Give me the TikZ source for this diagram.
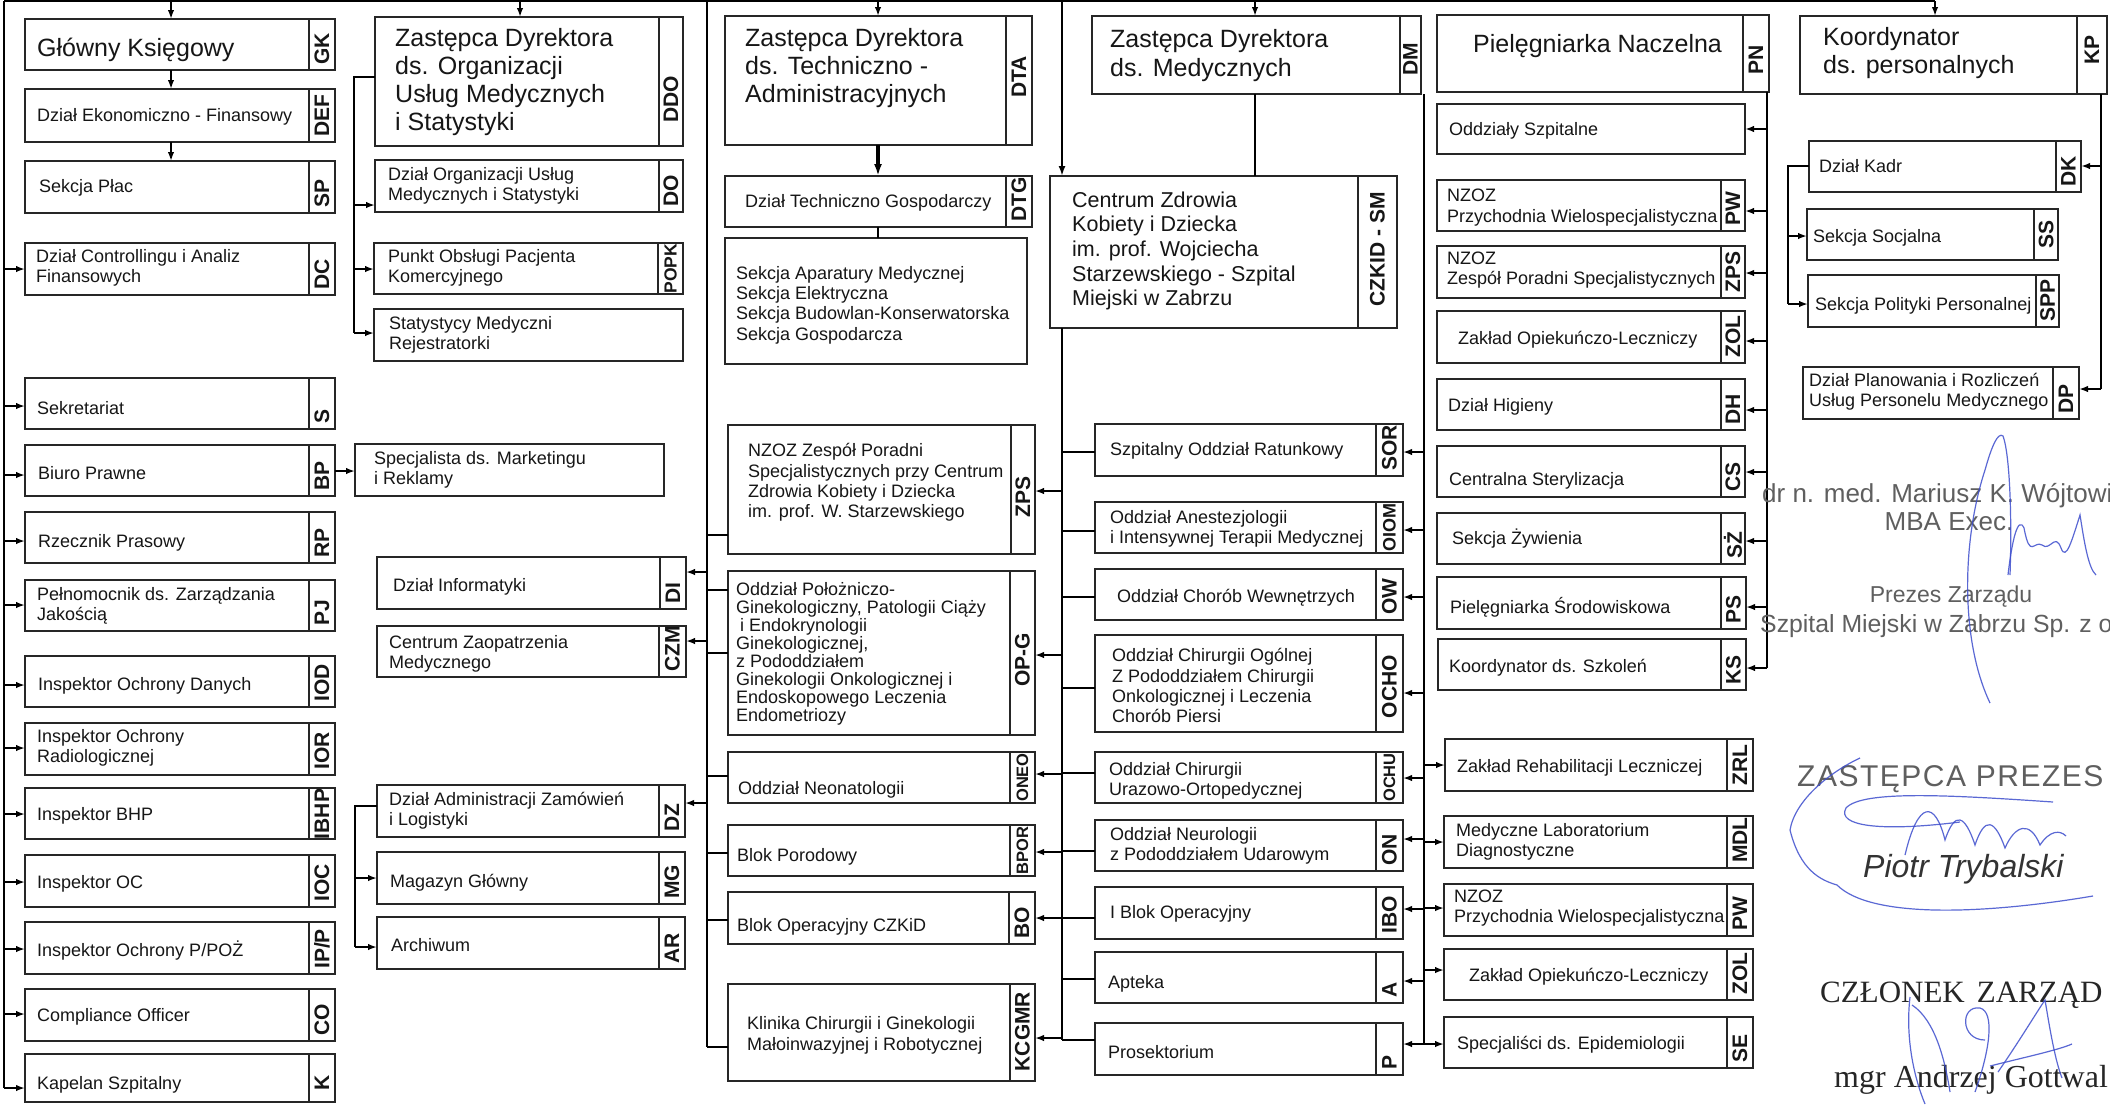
\documentclass[tikz,border=0pt]{standalone}
\usepackage{fontspec}
\setmainfont{Liberation Sans}
\newfontfamily\serifA{Liberation Serif}
\newfontfamily\stampF[LetterSpace=5]{Liberation Sans}
\usetikzlibrary{arrows.meta}
\definecolor{sigblue}{RGB}{62,78,205}
\definecolor{ink}{RGB}{22,22,22}
\definecolor{greyink}{RGB}{95,95,95}

\newcommand\fsS{\fontsize{18}{20.4}\selectfont}
\newcommand\fsB{\fontsize{25}{28.3}\selectfont}
\newcommand\fsC{\fontsize{21.5}{24.6}\selectfont}
\newcommand\fsL{\fontsize{21}{21}\selectfont\bfseries}

\tikzset{
  bx/.style={draw=black!85, line width=1.4pt, fill=white, inner sep=0pt, outer sep=0pt},
  dv/.style={draw=black!85, line width=1.4pt},
  lab/.style={inner sep=0pt, font=\fsL, text=ink, rotate=90},
  txt/.style={inner sep=0pt, font=\fsS, text=ink},
  ln/.style={line width=2.6pt, black},
  stb/.style={line width=2.2pt, black},
  arr/.style={line width=2pt, black, -{Latex[length=9pt,width=6.5pt]}},
  arrT/.style={line width=1.8pt, black, -{Latex[length=9pt,width=6.5pt]}},
  arrK/.style={line width=3.2pt, black, -{Latex[length=12pt,width=8pt]}},
  sig/.style={draw=sigblue, line width=1.2pt, opacity=0.85},
  sgt/.style={inner sep=0pt, text=greyink},
}

% box with label anchored near bottom
\newcommand\BxS[7]{%
  \node[bx, anchor=north west, minimum width={#4-#2}, minimum height={#5-#3}] (#1) at (#2,#3) {};
  \draw[dv] (#6,#3) -- (#6,#5);
  \node[lab, anchor=west] (#1-l) at ({(#6+#4)/2},{#5-5}) {#7};
}
% box with label centred at given y
\newcommand\BxC[8]{%
  \node[bx, anchor=north west, minimum width={#4-#2}, minimum height={#5-#3}] (#1) at (#2,#3) {};
  \draw[dv] (#6,#3) -- (#6,#5);
  \node[lab, anchor=center] (#1-l) at ({(#6+#4)/2},#8) {#7};
}
% box without label
\newcommand\BxN[5]{%
  \node[bx, anchor=north west, minimum width={#4-#2}, minimum height={#5-#3}] (#1) at (#2,#3) {};
}
\newcommand\Tone[4]{\node[txt, anchor=base west] (#1) at (#2,{#3+6.5}) {#4};}
\newcommand\Tmul[4]{\node[txt, anchor=west, align=left] (#1) at (#2,#3) {#4};}
\newcommand\Tbig[4]{\node[txt, font=\fsB, anchor=west, align=left] (#1) at (#2,#3) {#4};}
\newcommand\Tbigone[4]{\node[txt, font=\fsB, anchor=base west] (#1) at (#2,{#3+9}) {#4};}
\newcommand\ArW[3]{\draw[arr] (#1 |- 0,#3) -- (#2.west |- 0,#3);}
\newcommand\ArE[3]{\draw[arr] (#1 |- 0,#3) -- (#2.east |- 0,#3);}
\newcommand\StW[3]{\draw[stb] (#1 |- 0,#3) -- (#2.west |- 0,#3);}

\begin{document}
\begin{tikzpicture}[x=1pt,y=-1pt]
\useasboundingbox (0,0) rectangle (2110,1104);
\fill[white] (0,0) rectangle (2110,1104);

% ---------------- column 1
\BxS{GK}{25}{19}{335}{70}{309}{GK}
\BxS{DEF}{25}{89}{335}{142}{309}{DEF}
\BxS{SP}{25}{161}{335}{213}{309}{SP}
\BxS{DC}{25}{243}{335}{295}{309}{DC}
\BxS{S}{25}{378}{335}{429}{309}{S}
\BxS{BP}{25}{445}{335}{496}{309}{BP}
\BxS{RP}{25}{512}{335}{563}{309}{RP}
\BxS{PJ}{25}{580}{335}{631}{309}{PJ}
\BxS{IOD}{25}{656}{335}{707}{309}{IOD}
\BxS{IOR}{25}{723}{335}{775}{309}{IOR}
\BxC{IBHP}{25}{788}{335}{839}{309}{IBHP}{814}
\BxS{IOC}{25}{855}{335}{907}{309}{IOC}
\BxS{IPP}{25}{922}{335}{974}{309}{IP/P}
\BxS{CO}{25}{989}{335}{1041}{309}{CO}
\BxC{K}{25}{1054}{335}{1102}{309}{K}{1083}

\Tbigone{GKt}{37}{47}{Główny Księgowy}
\Tone{DEFt}{37}{115}{Dział Ekonomiczno - Finansowy}
\Tone{SPt}{39}{186}{Sekcja Płac}
\Tmul{DCt}{36}{268}{Dział Controllingu i Analiz\\Finansowych}
\Tone{St}{37}{408}{Sekretariat}
\Tone{BPt}{38}{473}{Biuro Prawne}
\Tone{RPt}{38}{541}{Rzecznik Prasowy}
\Tmul{PJt}{37}{606}{Pełnomocnik ds. Zarządzania\\Jakością}
\Tone{IODt}{38}{684}{Inspektor Ochrony Danych}
\Tmul{IORt}{37}{748}{Inspektor Ochrony\\Radiologicznej}
\Tone{IBHPt}{37}{814}{Inspektor BHP}
\Tone{IOCt}{37}{882}{Inspektor OC}
\Tone{IPPt}{37}{950}{Inspektor Ochrony P/POŻ}
\Tone{COt}{37}{1015}{Compliance Officer}
\Tone{Kt}{37}{1083}{Kapelan Szpitalny}

% ---------------- column 2
\BxC{DDO}{375}{17}{683}{146}{659}{DDO}{99}
\BxS{DO}{375}{160}{683}{212}{659}{DO}
\BxC{POPK}{374}{243}{683}{294}{658}{\fontsize{17.5}{17.5}\selectfont POPK}{268.5}
\BxN{STAT}{374}{309}{683}{361}
\BxN{SPEC}{355}{444}{664}{496}
\BxS{DI}{377}{557}{686}{609}{660}{DI}
\BxS{CZM}{377}{626}{686}{677}{659}{CZM}
\BxS{DZ}{377}{785}{685}{837}{659}{DZ}
\BxS{MG}{377}{852}{685}{904}{659}{MG}
\BxS{AR}{377}{917}{685}{969}{659}{AR}

\Tbig{DDOt}{395}{82}{Zastępca Dyrektora\\ds. Organizacji\\Usług Medycznych\\i Statystyki}
\Tmul{DOt}{388}{186}{Dział Organizacji Usług\\Medycznych i Statystyki}
\Tmul{POPKt}{388}{268}{Punkt Obsługi Pacjenta\\Komercyjnego}
\Tmul{STATt}{389}{335}{Statystycy Medyczni\\Rejestratorki}
\Tmul{SPECt}{374}{470}{Specjalista ds. Marketingu\\i Reklamy}
\Tone{DIt}{393}{585}{Dział Informatyki}
\Tmul{CZMt}{389}{654}{Centrum Zaopatrzenia\\Medycznego}
\Tmul{DZt}{389}{811}{Dział Administracji Zamówień\\i Logistyki}
\Tone{MGt}{390}{881}{Magazyn Główny}
\Tone{ARt}{391}{945}{Archiwum}

% ---------------- column 3
\BxC{DTA}{725}{16}{1032}{145}{1006}{DTA}{77}
\BxS{DTG}{725}{176}{1032}{227}{1006}{DTG}
\BxN{SEK}{725}{238}{1027}{364}
\BxC{ZPSa}{728}{425}{1035}{554}{1011}{ZPS}{497}
\BxC{OPG}{728}{571}{1035}{735}{1010}{OP-G}{660}
\BxC{ONEO}{728}{752}{1035}{803}{1010}{\fontsize{16.5}{16.5}\selectfont ONEO}{777.5}
\BxC{BPOR}{728}{825}{1035}{876}{1010}{\fontsize{16.5}{16.5}\selectfont BPOR}{850.5}
\BxS{BO}{728}{892}{1035}{944}{1009}{BO}
\BxC{KCGMR}{728}{984}{1035}{1081}{1010}{KCGMR}{1031.5}

\Tbig{DTAt}{745}{68}{Zastępca Dyrektora\\ds. Techniczno -\\Administracyjnych}
\Tone{DTGt}{745}{201}{Dział Techniczno Gospodarczy}
\Tmul{SEKt}{736}{305}{Sekcja Aparatury Medycznej\\Sekcja Elektryczna\\Sekcja Budowlan-Konserwatorska\\Sekcja Gospodarcza}
\Tmul{ZPSat}{748}{482.5}{NZOZ Zespół Poradni\\Specjalistycznych przy Centrum\\Zdrowia Kobiety i Dziecka\\im. prof. W. Starzewskiego}
\node[txt, font=\fontsize{18}{18}\selectfont, anchor=west, align=left] (OPGt) at (736,654) {Oddział Położniczo-\\Ginekologiczny, Patologii Ciąży\\\hspace*{4pt}i Endokrynologii\\Ginekologicznej,\\z Pododdziałem\\Ginekologii Onkologicznej i\\Endoskopowego Leczenia\\Endometriozy};
\Tone{ONEOt}{738}{788}{Oddział Neonatologii}
\Tone{BPORt}{737}{855}{Blok Porodowy}
\Tone{BOt}{737}{925}{Blok Operacyjny CZKiD}
\Tmul{KCGMRt}{747}{1035.5}{Klinika Chirurgii i Ginekologii\\Małoinwazyjnej i Robotycznej}

% ---------------- column 4
\BxC{DM}{1092}{16}{1421}{94}{1400}{DM}{59}
\BxC{CZKID}{1050}{176}{1397}{328}{1358}{CZKID - SM}{249}
\BxS{SOR}{1095}{424}{1403}{476}{1376}{SOR}
\BxC{OIOM}{1095}{502}{1403}{553}{1376}{\fontsize{18}{18}\selectfont OIOM}{527.5}
\BxS{OW}{1095}{569}{1403}{620}{1376}{OW}
\BxC{OCHO}{1095}{635}{1403}{732}{1376}{OCHO}{686.5}
\BxC{OCHU}{1095}{752}{1403}{803}{1376}{\fontsize{16.5}{16.5}\selectfont OCHU}{777.5}
\BxS{ON}{1095}{820}{1403}{871}{1376}{ON}
\BxS{IBO}{1095}{887}{1403}{939}{1376}{IBO}
\BxS{A}{1095}{952}{1403}{1003}{1376}{A}
\BxS{P}{1095}{1023}{1403}{1075}{1376}{P}

\Tbig{DMt}{1110}{55.5}{Zastępca Dyrektora\\ds. Medycznych}
\node[txt, font=\fsC, anchor=west, align=left] (CZKIDt) at (1072,251) {Centrum Zdrowia\\Kobiety i Dziecka\\im. prof. Wojciecha\\Starzewskiego - Szpital\\Miejski w Zabrzu};
\Tone{SORt}{1110}{449}{Szpitalny Oddział Ratunkowy}
\Tmul{OIOMt}{1110}{528.6}{Oddział Anestezjologii\\i Intensywnej Terapii Medycznej}
\Tone{OWt}{1117}{596}{Oddział Chorób Wewnętrzych}
\Tmul{OCHOt}{1112}{685.7}{Oddział Chirurgii Ogólnej\\Z Pododdziałem Chirurgii\\Onkologicznej i Leczenia\\Chorób Piersi}
\Tmul{OCHUt}{1109}{781}{Oddział Chirurgii\\Urazowo-Ortopedycznej}
\Tmul{ONt}{1110}{846}{Oddział Neurologii\\z Pododdziałem Udarowym}
\Tone{IBOt}{1110}{912}{I Blok Operacyjny}
\Tone{At}{1108}{982}{Apteka}
\Tone{Pt}{1108}{1052}{Prosektorium}

% ---------------- column 5
\BxC{PN}{1437}{15}{1769}{92}{1743}{PN}{59.5}
\BxN{OS}{1437}{104}{1745}{154}
\BxS{PW}{1437}{180}{1745}{231}{1721}{PW}
\BxS{ZPSb}{1437}{246}{1745}{298}{1721}{ZPS}
\BxS{ZOL}{1437}{311}{1745}{363}{1721}{ZOL}
\BxS{DH}{1437}{379}{1745}{430}{1721}{DH}
\BxS{CS}{1437}{446}{1745}{497}{1721}{CS}
\BxS{SZ}{1437}{513}{1745}{564}{1721}{SŻ}
\BxS{PS}{1437}{577}{1746}{629}{1721}{PS}
\BxS{KS}{1438}{639}{1746}{690}{1721}{KS}
\BxS{ZRL}{1445}{739}{1753}{791}{1727}{ZRL}
\BxS{MDL}{1444}{816}{1753}{868}{1727}{MDL}
\BxS{PWb}{1444}{884}{1753}{936}{1727}{PW}
\BxS{ZOLb}{1444}{949}{1753}{1000}{1727}{ZOL}
\BxS{SE}{1444}{1017}{1753}{1068}{1727}{SE}

\Tbigone{PNt}{1473}{43}{Pielęgniarka Naczelna}
\Tone{OSt}{1449}{129}{Oddziały Szpitalne}
\Tmul{PWt}{1447}{207.5}{NZOZ\\Przychodnia Wielospecjalistyczna}
\Tmul{ZPSbt}{1447}{270}{NZOZ\\Zespół Poradni Specjalistycznych}
\Tone{ZOLt}{1458}{337.5}{Zakład Opiekuńczo-Leczniczy}
\Tone{DHt}{1448}{405}{Dział Higieny}
\Tone{CSt}{1449}{479}{Centralna Sterylizacja}
\Tone{SZt}{1452}{538}{Sekcja Żywienia}
\Tone{PSt}{1450}{607}{Pielęgniarka Środowiskowa}
\Tone{KSt}{1449}{666}{Koordynator ds. Szkoleń}
\Tone{ZRLt}{1457}{766}{Zakład Rehabilitacji Leczniczej}
\Tmul{MDLt}{1456}{842}{Medyczne Laboratorium\\Diagnostyczne}
\Tmul{PWbt}{1454}{908}{NZOZ\\Przychodnia Wielospecjalistyczna}
\Tone{ZOLbt}{1469}{975}{Zakład Opiekuńczo-Leczniczy}
\Tone{SEt}{1457}{1043}{Specjaliści ds. Epidemiologii}

% ---------------- column 6
\BxC{KP}{1800}{16}{2107}{94}{2077}{KP}{50}
\BxS{DK}{1809}{141}{2081}{192}{2056}{DK}
\BxC{SS}{1807}{209}{2058}{260}{2034}{SS}{234}
\BxS{SPP}{1808}{275}{2059}{327}{2036}{SPP}
\BxS{DP}{1803}{367}{2079}{419}{2053}{DP}

\Tbig{KPt}{1823}{52.7}{Koordynator\\ds. personalnych}
\Tone{DKt}{1819}{166}{Dział Kadr}
\Tone{SSt}{1813}{236}{Sekcja Socjalna}
\Tone{SPPt}{1815}{303.5}{Sekcja Polityki Personalnej}
\Tmul{DPt}{1809}{392}{Dział Planowania i Rozliczeń\\Usług Personelu Medycznego}

% ---------------- connector anchors
\coordinate (busL) at (4,1);
\coordinate (busA) at (707,1);
\coordinate (busB) at (1062,1);
\coordinate (busM) at (1424,94);
\coordinate (busN) at (1767,92);
\coordinate (busK) at (2101,94);
\coordinate (brA) at (354,77);
\coordinate (brB) at (355,806);
\coordinate (brC) at (1788,166);
\coordinate (tGK) at (171,1);
\coordinate (tDDO) at (520,1);
\coordinate (tDTA) at (878,1);
\coordinate (tDM) at (1255,1);
\coordinate (tKP) at (1935,1);

% top line and drops
\draw[line width=2pt] (busL) -- (tKP);
\draw[arrT] (tGK) -- (tGK |- GK.north);
\draw[arrT] (tDDO) -- (tDDO |- DDO.north);
\draw[arrT] (tDTA) -- (tDTA |- DTA.north);
\draw[arrT] (tDM) -- (tDM |- DM.north);
\draw[arrT] (tKP) -- (tKP |- KP.north);
\draw[arrT] (tGK |- GK.south) -- (tGK |- DEF.north);
\draw[arrT] (tGK |- DEF.south) -- (tGK |- SP.north);
\draw[arrK] (tDTA |- DTA.south) -- (tDTA |- DTG.north);
\draw[ln] (tDTA |- DTG.south) -- (tDTA |- SEK.north);
\draw[ln] (tDM |- DM.south) -- (tDM |- CZKID.north);

% left bus
\draw[ln] (busL) -- (busL |- 0,1088);
\ArW{busL}{DC}{269}
\ArW{busL}{S}{406}
\ArW{busL}{BP}{475}
\ArW{busL}{RP}{541}
\ArW{busL}{PJ}{605}
\ArW{busL}{IOD}{685}
\ArW{busL}{IOR}{748}
\ArW{busL}{IBHP}{814}
\ArW{busL}{IOC}{882}
\ArW{busL}{IPP}{949}
\ArW{busL}{CO}{1014}
\ArW{busL}{K}{1088}
\draw[arr] (BP.east |- 0,471) -- (SPEC.west |- 0,471);

% DDO bracket
\draw[ln] (DDO.west |- brA) -- (brA) -- (brA |- 0,333);
\ArW{brA}{DO}{205}
\ArW{brA}{POPK}{269}
\ArW{brA}{STAT}{333}

% bus A
\draw[ln] (busA) -- (busA |- 0,1047);
\ArE{busA}{DI}{572}
\ArE{busA}{CZM}{641}
\ArE{busA}{DZ}{803}
\StW{busA}{ZPSa}{535}
\StW{busA}{OPG}{590}
\StW{busA}{OPG}{653}
\StW{busA}{ONEO}{776}
\StW{busA}{BPOR}{853}
\StW{busA}{BO}{920}
\StW{busA}{KCGMR}{1047}

% DZ bracket
\draw[ln] (DZ.west |- brB) -- (brB) -- (brB |- 0,947);
\ArW{brB}{MG}{878}
\ArW{brB}{AR}{947}

% bus B (CZKiD)
\draw[line width=2.4pt, -{Latex[length=10pt,width=7pt]}] (busB) -- (busB |- CZKID.north);
\draw[ln] (busB |- CZKID.south) -- (busB |- 0,1040);
\ArE{busB}{ZPSa}{491}
\ArE{busB}{OPG}{655}
\ArE{busB}{ONEO}{774}
\ArE{busB}{BPOR}{852}
\ArE{busB}{BO}{918}
\ArE{busB}{KCGMR}{1038}
\StW{busB}{SOR}{452}
\StW{busB}{OIOM}{531}
\StW{busB}{OW}{597}
\StW{busB}{OCHO}{688}
\StW{busB}{OCHU}{773}
\StW{busB}{ON}{851}
\StW{busB}{IBO}{918}
\StW{busB}{A}{979}
\StW{busB}{P}{1040}

% bus M (DM)
\draw[ln] (busM) -- (busM |- 0,1044);
\ArE{busM}{SOR}{452}
\ArE{busM}{OIOM}{530}
\ArE{busM}{OW}{597}
\ArE{busM}{OCHO}{693}
\ArE{busM}{OCHU}{778}
\ArE{busM}{ON}{839}
\ArE{busM}{IBO}{909}
\ArE{busM}{A}{981}
\ArE{busM}{P}{1044}
\ArW{busM}{ZRL}{765}
\ArW{busM}{MDL}{842}
\ArW{busM}{PWb}{908}
\ArW{busM}{ZOLb}{970}
\ArW{busM}{SE}{1044}

% bus N (PN)
\draw[ln] (busN) -- (busN |- 0,668);
\ArE{busN}{OS}{129}
\ArE{busN}{PW}{211}
\ArE{busN}{ZPSb}{273}
\ArE{busN}{ZOL}{341}
\ArE{busN}{DH}{410}
\ArE{busN}{CS}{472}
\ArE{busN}{SZ}{541}
\ArE{busN}{PS}{607}
\ArE{busN}{KS}{668}

% bus K (KP)
\draw[ln] (busK) -- (busK |- 0,389);
\ArE{busK}{DK}{166}
\ArE{busK}{DP}{389}
\draw[ln] (DK.west |- brC) -- (brC) -- (brC |- 0,304);
\ArW{brC}{SS}{236}
\ArW{brC}{SPP}{304}

% ---------------- signatures
\begin{scope}
\clip (0,0) rectangle (2110,1104);
\node[sgt, font=\fontsize{26}{26}\selectfont, anchor=base west] (sA) at (1762,502) {dr n. med. Mariusz K. Wójtowi};
\node[sgt, font=\fontsize{26}{26}\selectfont, anchor=base] (sB) at (1949,530) {MBA Exec.};
\node[sgt, font=\fontsize{23}{23}\selectfont, anchor=base] (sC) at (1951,602) {Prezes Zarządu};
\node[sgt, font=\fontsize{24.8}{24.8}\selectfont, anchor=base west] (sD) at (1760,632) {Szpital Miejski w Zabrzu Sp. z o};
\node[sgt, font=\stampF\fontsize{30}{30}\selectfont, anchor=base west] (sE) at (1797,786) {ZASTĘPCA PREZES};
\node[sgt, text=black!80, font=\fontsize{32}{32}\selectfont\itshape, anchor=base west] (sF) at (1863,877) {Piotr Trybalski};
\node[sgt, text=black!85, font=\serifA\fontsize{31}{31}\selectfont, anchor=base west] (sG) at (1820,1002) {CZŁONEK\hspace{12pt}ZARZĄD};
\node[sgt, text=black!85, font=\serifA\fontsize{32}{32}\selectfont, anchor=base west] (sH) at (1834,1087) {mgr Andrzej Gottwal};

% Wojtowicz signature
\draw[sig] (1990,703) .. controls (1960,640) and (1962,540) .. (1985,470) .. controls (1992,445) and (1998,432) .. (2003,436) .. controls (2010,455) and (2012,520) .. (2010,575);
\draw[sig] (2008,575) .. controls (2012,540) and (2018,515) .. (2024,528) .. controls (2030,560) and (2034,540) .. (2042,545) .. controls (2050,552) and (2055,532) .. (2061,548) .. controls (2066,562) and (2072,540) .. (2080,515) .. controls (2084,540) and (2088,568) .. (2096,575);
% Trybalski signature
\draw[sig] (2053,802) .. controls (1950,795) and (1862,790) .. (1846,808) .. controls (1836,826) and (1880,832) .. (1960,822);
\draw[sig] (1860,758) .. controls (1830,772) and (1795,800) .. (1790,830) .. controls (1800,870) and (1820,880) .. (1837,885) .. controls (1870,918) and (1980,915) .. (2093,896);
\draw[sig] (1905,855) .. controls (1918,800) and (1935,800) .. (1945,840) .. controls (1955,810) and (1965,815) .. (1975,845) .. controls (1985,815) and (1995,820) .. (2005,848) .. controls (2015,825) and (2030,820) .. (2040,845) .. controls (2050,830) and (2060,830) .. (2066,836);
% Gottwald signature
\draw[sig] (1910,997) .. controls (1905,1040) and (1915,1080) .. (1925,1104);
\draw[sig] (1912,1005) .. controls (1935,1020) and (1945,1060) .. (1950,1092);
\draw[sig] (1985,1040) .. controls (1960,1040) and (1960,1005) .. (1980,1008) .. controls (1995,1012) and (1990,1050) .. (1975,1092);
\draw[sig] (1998,1072) .. controls (2020,1040) and (2038,1010) .. (2045,1000) .. controls (2050,1030) and (2055,1060) .. (2062,1078);
\draw[sig] (1990,1066) .. controls (2030,1056) and (2058,1050) .. (2072,1044);
\end{scope}
\end{tikzpicture}
\end{document}
